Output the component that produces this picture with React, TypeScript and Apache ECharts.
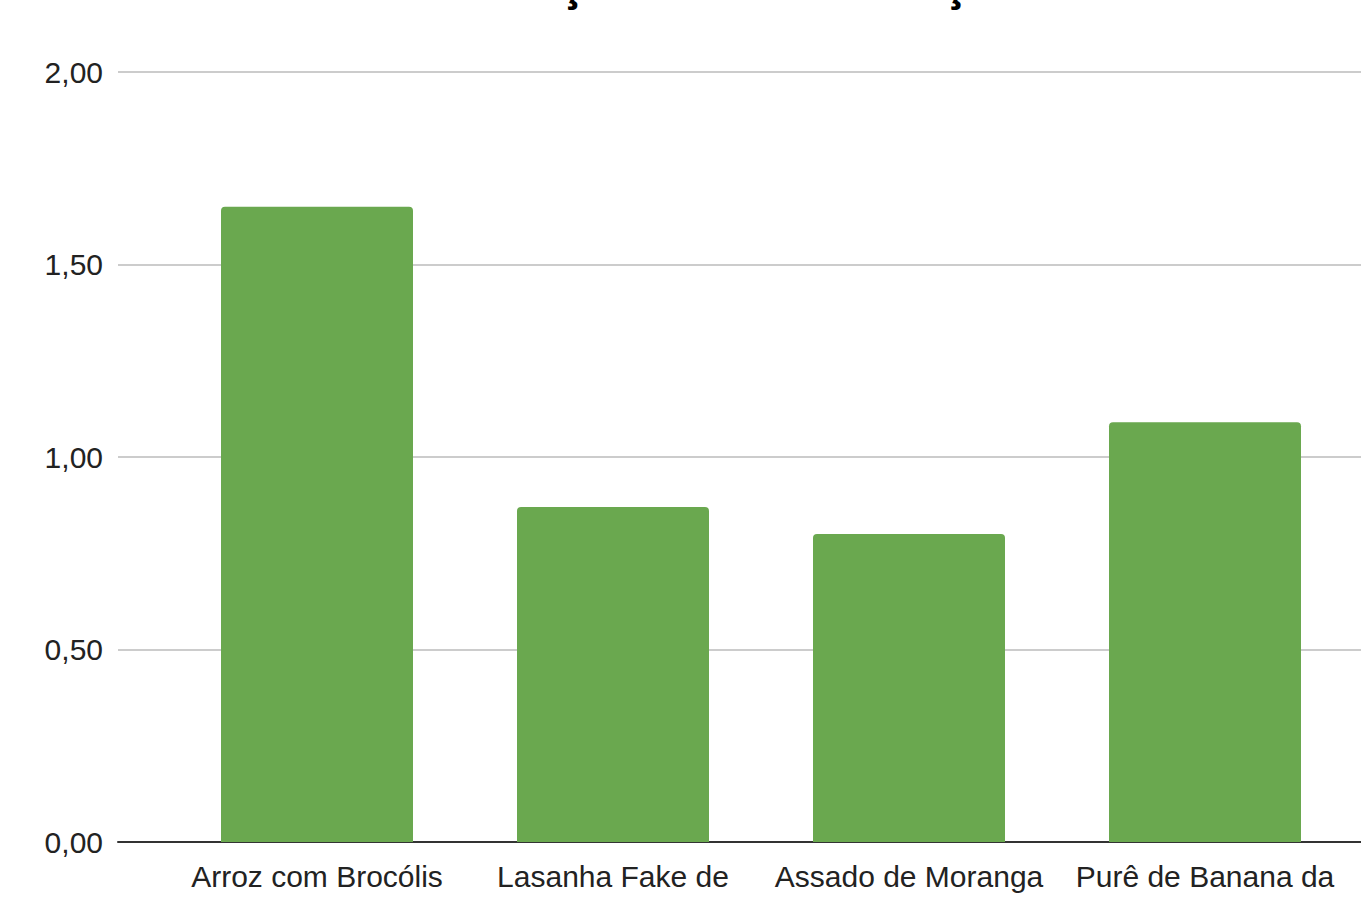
import React, { useEffect, useRef } from "react";
import * as echarts from "echarts";

const categories = ["Arroz com Brocólis", "Lasanha Fake de", "Assado de Moranga", "Purê de Banana da"];
const values = [1.65, 0.87, 0.8, 1.09];
const yTicks = [0, 0.5, 1, 1.5, 2];
const titleText = "Custo de Produção e Custo da Porção";

export default function App() {
  const ref = useRef<HTMLDivElement>(null);
  useEffect(() => {
    document.body.style.margin = "0";
    const fam = "'Open Sans', sans-serif";
    // fit title so that its two cedillas land where the reference shows them
    const cv = document.createElement("canvas");
    const ctx = cv.getContext("2d")!;
    const firstIdx = titleText.indexOf("ç");
    const secondIdx = titleText.indexOf("ç", firstIdx + 1);
    const measure = (s: number) => {
      ctx.font = `bold ${s}px ${fam}`;
      const a = ctx.measureText(titleText.slice(0, firstIdx)).width;
      const b = ctx.measureText(titleText.slice(0, secondIdx)).width;
      const c = ctx.measureText("ç").width;
      return { a, b, c };
    };
    const m0 = measure(30);
    const size = Math.round((30 * 383) / (m0.b - m0.a) * 10) / 10;
    const m = measure(size);
    const titleX = 571 - (m.a + m.c / 2);

    const chart = echarts.init(ref.current!, null, { renderer: "svg" });
    const fmt = (v: number) => v.toFixed(2).replace(".", ",");
    chart.setOption({
      animation: false,
      backgroundColor: "#ffffff",
      graphic: [
        {
          type: "text",
          x: titleX,
          y: Math.round(size * 0.1),
          style: {
            text: titleText,
            font: `bold ${size}px ${fam}`,
            fill: "#000000",
            textAlign: "left",
            textVerticalAlign: "bottom",
          },
        },
      ],
      grid: [
        { left: 118, right: 0, top: 72, bottom: 58 },
        { left: 169, right: 8, top: 72, bottom: 58 },
      ],
      xAxis: [
        {
          type: "category",
          gridIndex: 0,
          data: ["a"],
          axisLine: { show: true, lineStyle: { color: "#333333", width: 2 } },
          axisTick: { show: false },
          axisLabel: { show: false },
        },
        {
          type: "category",
          gridIndex: 1,
          data: categories,
          axisLine: { show: false },
          axisTick: { show: false },
          axisLabel: {
            fontSize: 30,
            fontFamily: "'Liberation Sans', Arial, sans-serif",
            color: "#222222",
            margin: 19,
            interval: 0,
          },
        },
      ],
      yAxis: [
        {
          type: "value",
          gridIndex: 0,
          min: yTicks[0],
          max: yTicks[yTicks.length - 1],
          interval: yTicks[1] - yTicks[0],
          axisLine: { show: false },
          axisTick: { show: false },
          splitLine: { lineStyle: { color: "#cccccc", width: 2 } },
          axisLabel: {
            formatter: fmt,
            fontSize: 30,
            fontFamily: "'Liberation Sans', Arial, sans-serif",
            color: "#222222",
            margin: 15,
          },
        },
        {
          type: "value",
          gridIndex: 1,
          min: yTicks[0],
          max: yTicks[yTicks.length - 1],
          show: false,
          splitLine: { show: false },
        },
      ],
      series: [
        {
          type: "bar",
          xAxisIndex: 1,
          yAxisIndex: 1,
          data: values,
          barWidth: 192,
          itemStyle: { color: "#6aa84f", borderRadius: [4, 4, 0, 0] },
        },
      ],
    });
    return () => chart.dispose();
  }, []);
  return <div ref={ref} style={{ width: 1361, height: 900 }} />;
}
